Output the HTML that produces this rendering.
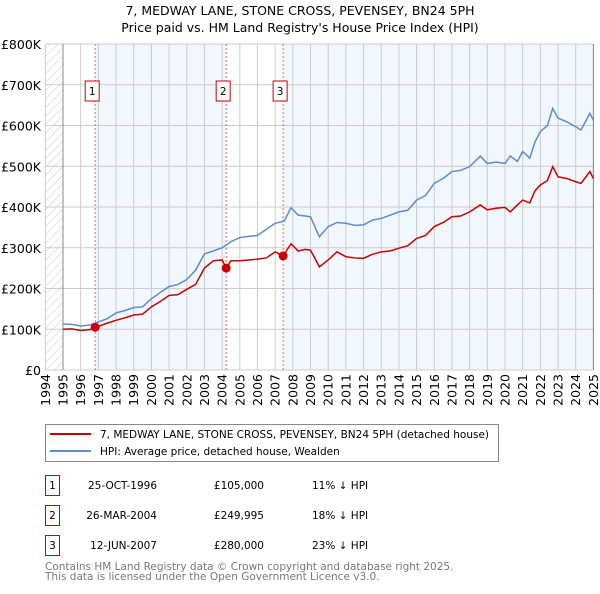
<!DOCTYPE html>
<html><head><meta charset="utf-8"><style>
body{margin:0;background:#fff;font-family:"DejaVu Sans","Liberation Sans",sans-serif;}
svg text{font-family:"DejaVu Sans","Liberation Sans",sans-serif;}
</style></head><body>
<svg id="chart" width="600" height="590" xmlns="http://www.w3.org/2000/svg">
<defs><pattern id="hatch" width="6" height="6" patternUnits="userSpaceOnUse" patternTransform="rotate(45)"><line x1="0" y1="0" x2="0" y2="6" stroke="#ccc" stroke-width="1"/></pattern></defs>
<text x="300" y="15" text-anchor="middle" font-size="12.5">7, MEDWAY LANE, STONE CROSS, PEVENSEY, BN24 5PH</text>
<text x="300" y="32" text-anchor="middle" font-size="12.5">Price paid vs. HM Land Registry's House Price Index (HPI)</text>
<g id="plot"></g>
<g id="legend">
<rect x="45.5" y="424.5" width="453" height="37" fill="#fff" stroke="#888"/>
<line x1="50" y1="434" x2="91" y2="434" stroke="#cc0000" stroke-width="2"/>
<text x="100" y="438" font-size="10.5">7, MEDWAY LANE, STONE CROSS, PEVENSEY, BN24 5PH (detached house)</text>
<line x1="50" y1="451" x2="91" y2="451" stroke="#5b8dd0" stroke-width="2"/>
<text x="100" y="455" font-size="10.5">HPI: Average price, detached house, Wealden</text>
</g>
<g id="table"></g>
<text x="45" y="570" font-size="10.5" fill="#777">Contains HM Land Registry data © Crown copyright and database right 2025.</text>
<text x="45" y="580" font-size="10.5" fill="#777">This data is licensed under the Open Government Licence v3.0.</text>
</svg>
<script>
const hpiYears=[1995,1995.5,1996,1996.5,1997,1997.5,1998,1998.5,1999,1999.5,2000,2000.5,2001,2001.5,2002,2002.5,2003,2003.5,2004,2004.5,2005,2005.5,2006,2006.5,2007,2007.5,2007.9,2008.3,2008.7,2009,2009.5,2010,2010.5,2011,2011.5,2012,2012.5,2013,2013.5,2014,2014.5,2015,2015.5,2016,2016.5,2017,2017.5,2018,2018.6,2019,2019.5,2020,2020.3,2020.7,2021,2021.4,2021.7,2022,2022.4,2022.7,2023,2023.5,2024,2024.3,2024.8,2025];
const hpiValues=[113,112,108,110,118,126,140,146,153,155,175,190,205,210,222,245,285,292,300,315,325,328,330,345,360,365,398,380,378,376,327,352,362,360,355,356,368,372,380,388,392,417,428,458,470,487,490,499,525,507,510,507,525,512,536,520,560,585,600,642,618,609,597,589,630,613];
const redYears=[1995,1995.5,1996,1996.5,1996.82,1997,1997.5,1998,1998.5,1999,1999.5,2000,2000.5,2001,2001.5,2002,2002.5,2003,2003.5,2004,2004.23,2004.5,2005,2005.5,2006,2006.5,2007,2007.45,2007.9,2008.3,2008.7,2009,2009.5,2010,2010.5,2011,2011.5,2012,2012.5,2013,2013.5,2014,2014.5,2015,2015.5,2016,2016.5,2017,2017.5,2018,2018.6,2019,2019.5,2020,2020.3,2020.7,2021,2021.4,2021.7,2022,2022.4,2022.7,2023,2023.5,2024,2024.3,2024.8,2025];
const redValues=[100,101,97,99,105,107,115,122,128,135,137,155,168,183,185,198,210,250,268,270,250,268,268,270,272,275,290,280,310,292,296,294,253,270,290,278,275,274,284,290,292,299,305,323,330,352,362,376,378,388,405,393,397,399,388,405,417,410,440,454,465,499,474,470,462,458,487,470];
const saleLabels=["1","2","3"];
const saleYears=[1996.82,2004.23,2007.45];
const salePrices=[105000,249995,280000];
const saleDates=["25-OCT-1996","26-MAR-2004","12-JUN-2007"];
const salePriceText=["£105,000","£249,995","£280,000"];
const saleDiff=["11% ↓ HPI","18% ↓ HPI","23% ↓ HPI"];
const yTicks=[0,100,200,300,400,500,600,700,800];
const yTickLabels=["£0","£100K","£200K","£300K","£400K","£500K","£600K","£700K","£800K"];
const xTicks=[1994,1995,1996,1997,1998,1999,2000,2001,2002,2003,2004,2005,2006,2007,2008,2009,2010,2011,2012,2013,2014,2015,2016,2017,2018,2019,2020,2021,2022,2023,2024,2025];

const NS="http://www.w3.org/2000/svg";
const X=y=>63+(y-1995)*17.68;
const Y=v=>370-v*0.4075;
const g=document.getElementById('plot');
function mk(tag,attrs,parent){const e=document.createElementNS(NS,tag);for(const k in attrs)e.setAttribute(k,attrs[k]);(parent||g).appendChild(e);return e;}
let e;
e=mk('rect',{x:X(1994),y:Y(800),width:X(1995)-X(1994),height:Y(0)-Y(800),fill:'url(#hatch)'});


e=mk('rect',{x:X(saleYears[0]),y:Y(800),width:X(saleYears[1])-X(saleYears[0]),height:Y(0)-Y(800),fill:'#f2f6fd'});


e=mk('rect',{x:X(saleYears[2]),y:Y(800),width:X(2025)-X(saleYears[2]),height:Y(0)-Y(800),fill:'#f2f6fd'});


xTicks.forEach(t=>{
 e=mk('line',{x1:X(t),x2:X(t),y1:Y(800),y2:Y(0),stroke:'#ccc'});
 
 
 e=mk('text',{x:0,y:0,transform:`translate(${X(t)+4.5},${Y(0)+4}) rotate(-90)`,'text-anchor':'end','font-size':'12.5'});
 e.textContent=t;
 
 
});
yTicks.forEach((t,i)=>{
 e=mk('line',{x1:X(1994),x2:X(2025),y1:Y(t),y2:Y(t),stroke:'#ccc'});
 
 
 e=mk('text',{x:41,y:Y(t)+5,'text-anchor':'end','font-size':'12.5'});
 e.textContent=yTickLabels[i];
 
 
});
e=mk('line',{x1:X(1995),x2:X(1995),y1:Y(800),y2:Y(0),stroke:'#888'});


e=mk('line',{x1:X(2025),x2:X(2025),y1:Y(800),y2:Y(0),stroke:'#888'});


saleYears.forEach((s,i)=>{
 e=mk('line',{x1:X(s),x2:X(s),y1:Y(800),y2:Y(0),stroke:'#ee6666','stroke-dasharray':'2,2'});
 
 
 e=mk('rect',{x:X(s)-10,y:81,width:14,height:20,fill:'#fff',stroke:'#cc0000'});
 
 
 e=mk('text',{x:X(s)-3,y:95,'text-anchor':'middle','font-size':'10.5'});
 e.textContent=saleLabels[i];
 
 
});
e=mk('polyline',{points:hpiYears.map((y,i)=>X(y)+','+Y(hpiValues[i])).join(' '),fill:'none',stroke:'#5b8dd0','stroke-width':1.5});


e=mk('polyline',{points:redYears.map((y,i)=>X(y)+','+Y(redValues[i])).join(' '),fill:'none',stroke:'#cc0000','stroke-width':1.5});


saleYears.forEach((s,i)=>{
 e=mk('circle',{cx:X(s),cy:Y(salePrices[i]/1000),r:4.5,fill:'#cc0000'});
 
 
});
const tb=document.getElementById('table');
saleLabels.forEach((l,i)=>{
 const y=483+i*30;
 e=mk('rect',{x:45.5,y:y-7.5,width:14,height:20,fill:'#fff',stroke:'#cc0000'},tb);
 
 
 e=mk('text',{x:52.5,y:y+6,'text-anchor':'middle','font-size':'10.5'},tb);e.textContent=l;
 
 
 e=mk('text',{x:157,y:y+6,'text-anchor':'end','font-size':'10.5'},tb);e.textContent=saleDates[i];
 
 
 e=mk('text',{x:264,y:y+6,'text-anchor':'end','font-size':'10.5'},tb);e.textContent=salePriceText[i];
 
 
 e=mk('text',{x:312,y:y+6,'font-size':'10.5'},tb);e.textContent=saleDiff[i];
 
 
});
</script>
</body></html>
